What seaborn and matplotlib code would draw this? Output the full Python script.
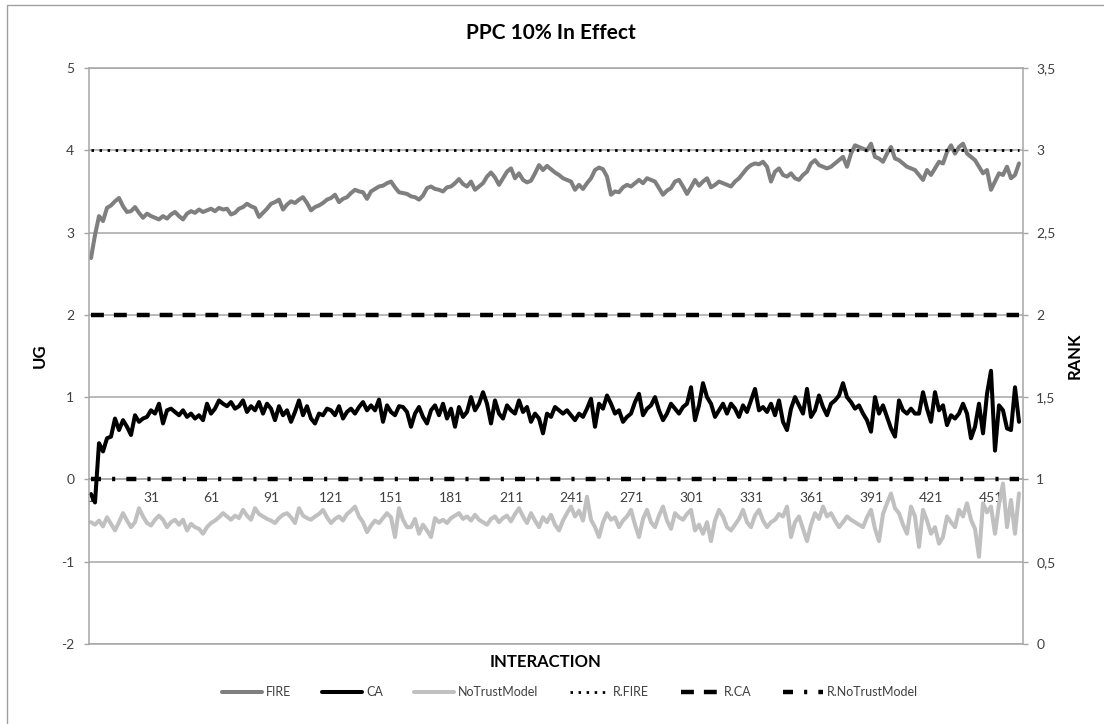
import numpy as np
import pandas as pd
import matplotlib
matplotlib.use("Agg")
import matplotlib.pyplot as plt
from matplotlib.lines import Line2D
from matplotlib.patches import Rectangle
from matplotlib.ticker import FuncFormatter
import seaborn as sns

# DATA (every 2nd interaction)
interaction = np.arange(1, 466, 2)

fire_ug = [
    2.69, 2.97, 3.20, 3.14, 3.30, 3.33, 3.38, 3.42, 3.32, 3.25,
    3.26, 3.31, 3.24, 3.18, 3.23, 3.20, 3.18, 3.16, 3.20, 3.17,
    3.22, 3.25, 3.20, 3.16, 3.23, 3.26, 3.24, 3.28, 3.25, 3.27,
    3.29, 3.26, 3.30, 3.28, 3.29, 3.22, 3.24, 3.29, 3.31, 3.35,
    3.32, 3.30, 3.19, 3.24, 3.29, 3.35, 3.37, 3.40, 3.28, 3.34,
    3.38, 3.36, 3.40, 3.43, 3.36, 3.27, 3.31, 3.33, 3.36, 3.40,
    3.42, 3.46, 3.37, 3.41, 3.43, 3.48, 3.52, 3.50, 3.49, 3.41,
    3.50, 3.53, 3.56, 3.57, 3.60, 3.62, 3.55, 3.49, 3.48, 3.47,
    3.44, 3.43, 3.40, 3.45, 3.54, 3.56, 3.53, 3.52, 3.50, 3.55,
    3.56, 3.60, 3.65, 3.59, 3.56, 3.62, 3.52, 3.56, 3.60, 3.68,
    3.73, 3.67, 3.58, 3.66, 3.74, 3.78, 3.66, 3.72, 3.64, 3.61,
    3.63, 3.72, 3.82, 3.76, 3.81, 3.77, 3.73, 3.70, 3.66, 3.64,
    3.62, 3.52, 3.58, 3.53, 3.60, 3.66, 3.76, 3.79, 3.77, 3.68,
    3.46, 3.50, 3.49, 3.55, 3.58, 3.56, 3.60, 3.64, 3.60, 3.66,
    3.64, 3.62, 3.54, 3.46, 3.51, 3.54, 3.62, 3.64, 3.56, 3.47,
    3.55, 3.64, 3.57, 3.62, 3.66, 3.55, 3.58, 3.62, 3.60, 3.58,
    3.56, 3.62, 3.66, 3.72, 3.78, 3.82, 3.84, 3.83, 3.86, 3.80,
    3.62, 3.74, 3.78, 3.70, 3.68, 3.72, 3.66, 3.64, 3.70, 3.74,
    3.84, 3.88, 3.82, 3.80, 3.78, 3.80, 3.84, 3.88, 3.92, 3.80,
    3.96, 4.06, 4.04, 4.02, 4.00, 4.08, 3.92, 3.90, 3.86, 3.96,
    4.04, 3.90, 3.88, 3.84, 3.80, 3.78, 3.76, 3.70, 3.64, 3.76,
    3.70, 3.78, 3.86, 3.84, 3.98, 4.06, 3.96, 4.04, 4.08, 3.96,
    3.92, 3.88, 3.80, 3.72, 3.76, 3.52, 3.62, 3.72, 3.70, 3.80,
    3.66, 3.70, 3.84,
]

ca_ug = [
    -0.18, -0.28, 0.44, 0.34, 0.50, 0.52, 0.74, 0.60, 0.72, 0.64,
    0.54, 0.78, 0.70, 0.74, 0.76, 0.84, 0.80, 0.92, 0.68, 0.84,
    0.86, 0.82, 0.78, 0.84, 0.76, 0.80, 0.74, 0.78, 0.72, 0.92,
    0.80, 0.86, 0.96, 0.92, 0.89, 0.94, 0.86, 0.89, 0.96, 0.82,
    0.89, 0.84, 0.94, 0.80, 0.92, 0.86, 0.72, 0.89, 0.78, 0.84,
    0.70, 0.82, 0.96, 0.78, 0.89, 0.74, 0.68, 0.80, 0.78, 0.86,
    0.84, 0.78, 0.89, 0.74, 0.82, 0.86, 0.80, 0.88, 0.94, 0.84,
    0.90, 0.84, 0.97, 0.70, 0.90, 0.82, 0.78, 0.89, 0.88, 0.82,
    0.64, 0.80, 0.88, 0.76, 0.68, 0.84, 0.90, 0.78, 0.92, 0.74,
    0.86, 0.64, 0.88, 0.76, 0.82, 1.00, 0.84, 0.92, 1.06, 0.92,
    0.68, 0.96, 0.80, 0.74, 0.90, 0.84, 0.80, 0.96, 0.82, 0.88,
    0.70, 0.80, 0.74, 0.56, 0.80, 0.76, 0.88, 0.84, 0.80, 0.84,
    0.78, 0.72, 0.80, 0.76, 0.86, 0.98, 0.64, 0.92, 0.86, 1.02,
    0.92, 0.80, 0.84, 0.70, 0.76, 0.80, 0.94, 1.04, 0.78, 0.86,
    0.90, 1.00, 0.84, 0.72, 0.80, 0.92, 0.86, 0.80, 0.88, 0.92,
    1.12, 0.72, 0.90, 1.17, 1.00, 0.92, 0.76, 0.84, 0.92, 0.80,
    0.92, 0.86, 0.76, 0.90, 0.82, 0.96, 1.10, 0.84, 0.88, 0.82,
    0.92, 0.78, 0.96, 0.70, 0.60, 0.86, 1.00, 0.90, 0.80, 1.10,
    0.76, 0.84, 1.02, 0.88, 0.78, 0.92, 0.96, 1.02, 1.17, 1.00,
    0.94, 0.86, 0.90, 0.80, 0.72, 0.58, 1.00, 0.80, 0.90, 0.76,
    0.62, 0.52, 0.96, 0.84, 0.80, 0.86, 0.80, 0.80, 1.06, 0.86,
    0.70, 1.06, 0.84, 0.90, 0.66, 0.78, 0.74, 0.80, 0.92, 0.80,
    0.50, 0.64, 0.92, 0.56, 1.04, 1.32, 0.35, 0.90, 0.84, 0.62,
    0.60, 1.12, 0.70,
]

notrust_ug = [
    -0.52, -0.55, -0.50, -0.57, -0.46, -0.54, -0.62, -0.52, -0.41, -0.50,
    -0.58, -0.52, -0.35, -0.45, -0.53, -0.56, -0.49, -0.44, -0.49, -0.58,
    -0.52, -0.49, -0.55, -0.49, -0.62, -0.54, -0.58, -0.60, -0.66, -0.58,
    -0.53, -0.50, -0.46, -0.41, -0.45, -0.49, -0.44, -0.47, -0.37, -0.44,
    -0.49, -0.35, -0.42, -0.45, -0.48, -0.50, -0.53, -0.47, -0.43, -0.41,
    -0.46, -0.53, -0.35, -0.44, -0.47, -0.49, -0.45, -0.42, -0.37, -0.46,
    -0.53, -0.48, -0.45, -0.50, -0.42, -0.38, -0.33, -0.45, -0.52, -0.64,
    -0.56, -0.50, -0.53, -0.47, -0.41, -0.46, -0.70, -0.35, -0.49, -0.58,
    -0.58, -0.48, -0.66, -0.55, -0.62, -0.70, -0.47, -0.52, -0.49, -0.53,
    -0.47, -0.44, -0.41, -0.48, -0.45, -0.50, -0.43, -0.49, -0.52, -0.55,
    -0.48, -0.45, -0.52, -0.47, -0.44, -0.51, -0.42, -0.35, -0.45, -0.53,
    -0.41, -0.50, -0.58, -0.46, -0.52, -0.43, -0.55, -0.62, -0.50, -0.41,
    -0.33, -0.45, -0.38, -0.50, -0.21, -0.49, -0.58, -0.70, -0.52, -0.41,
    -0.49, -0.46, -0.58, -0.50, -0.45, -0.37, -0.55, -0.70, -0.48, -0.37,
    -0.52, -0.58, -0.44, -0.33, -0.50, -0.60, -0.41, -0.46, -0.49, -0.42,
    -0.37, -0.62, -0.55, -0.66, -0.52, -0.75, -0.50, -0.37, -0.45, -0.58,
    -0.62, -0.55, -0.48, -0.37, -0.52, -0.58, -0.44, -0.37, -0.50, -0.58,
    -0.52, -0.49, -0.42, -0.45, -0.33, -0.70, -0.52, -0.45, -0.60, -0.75,
    -0.55, -0.41, -0.48, -0.33, -0.45, -0.41, -0.50, -0.58, -0.52, -0.45,
    -0.49, -0.52, -0.55, -0.58, -0.46, -0.37, -0.60, -0.75, -0.42, -0.29,
    -0.17, -0.35, -0.41, -0.55, -0.66, -0.33, -0.45, -0.82, -0.37, -0.50,
    -0.66, -0.58, -0.78, -0.70, -0.45, -0.52, -0.58, -0.37, -0.45, -0.29,
    -0.49, -0.60, -0.94, -0.29, -0.40, -0.33, -0.66, -0.30, -0.05, -0.58,
    -0.25, -0.66, -0.17,
]

# rank reference levels (secondary axis)
rank_fire = 3
rank_ca = 2
rank_notrust = 1

ug_ticks = [-2, -1, 0, 1, 2, 3, 4, 5]
rank_ticks = [0, 0.5, 1, 1.5, 2, 2.5, 3, 3.5]
x_labels = [1, 31, 61, 91, 121, 151, 181, 211, 241, 271, 301, 331, 361, 391, 421, 451]

# STYLE
sns.set_style("white")
plt.rcParams['font.family'] = ['Lato', 'DejaVu Sans']
plt.rcParams['axes.unicode_minus'] = False
grey = '#a6a6a6'
txt = '#404040'

fig = plt.figure(figsize=(11.04, 7.24), dpi=100)
ax = fig.add_axes([89 / 1104, 1 - 644 / 724, 934 / 1104, 576 / 724])
ax2 = ax.twinx()

# UG series
ug_df = pd.DataFrame({
    'interaction': np.tile(interaction, 3),
    'UG': fire_ug + ca_ug + notrust_ug,
    'series': ['FIRE'] * len(fire_ug) + ['CA'] * len(ca_ug) + ['NoTrustModel'] * len(notrust_ug),
})
palette = {'FIRE': '#7f7f7f', 'CA': '#000000', 'NoTrustModel': '#c0c0c0'}
sns.lineplot(data=ug_df, x='interaction', y='UG', hue='series', palette=palette,
             linewidth=2.9, ax=ax, legend=False, errorbar=None)

# Rank series
rank_styles = [
    ('R.FIRE', rank_fire, 2.0, (0, (0.9, 2.0))),
    ('R.CA', rank_ca, 3.2, (0, (2.9, 2.25))),
    ('R.NoTrustModel', rank_notrust, 3.2, (0, (2.25, 2.5, 0.7, 2.5))),
]
for name, level, lw, ls in rank_styles:
    sns.lineplot(x=interaction, y=np.full(len(interaction), level), color='black',
                 linewidth=lw, linestyle=ls, ax=ax2, legend=False)

# primary axis
ax.set_xlim(0, 467)
ax.set_ylim(-2, 5)
ax.set_yticks(ug_ticks)
ax.grid(axis='y', color=grey, linewidth=1.1)
ax.grid(axis='x', visible=False)
ax.set_axisbelow(True)
ax.set_xlabel('')
ax.set_ylabel('')
ax.spines['bottom'].set_position(('data', 0))
for s in ['top', 'right']:
    ax.spines[s].set_visible(False)
for s in ['left', 'bottom']:
    ax.spines[s].set_color(grey)
    ax.spines[s].set_linewidth(1.1)
ax.set_xticks(x_labels)
ax.set_xticklabels([str(v) for v in x_labels])
ax.set_xticks(np.arange(1, 467), minor=True)
ax.tick_params(axis='x', which='both', direction='out', length=4, width=0.8,
               color='#707070', pad=5, labelsize=10, labelcolor=txt)
ax.tick_params(axis='y', direction='out', length=3.6, width=1, color=grey,
               pad=7, labelsize=10, labelcolor=txt)

# secondary axis
ax2.set_ylim(0, 3.5)
ax2.set_yticks(rank_ticks)
ax2.yaxis.set_major_formatter(FuncFormatter(lambda v, p: f'{v:g}'.replace('.', ',')))
ax2.set_ylabel('')
ax2.grid(False)
ax2.spines['left'].set_visible(False)
for s in ['right', 'top', 'bottom']:
    ax2.spines[s].set_color(grey)
    ax2.spines[s].set_linewidth(1.1)
ax2.tick_params(axis='y', direction='out', length=3.6, width=1, color=grey,
                pad=6, labelsize=10, labelcolor=txt)

# titles
fig.text(551 / 1104, 1 - 33 / 724, 'PPC 10% In Effect', ha='center', va='center',
         fontsize=15, fontweight='bold', color='black')
fig.text(40 / 1104, 1 - 356 / 724, 'UG', ha='center', va='center', rotation=90,
         fontsize=12, fontweight='bold', color='black')
fig.text(1075 / 1104, 1 - 356 / 724, 'RANK', ha='center', va='center', rotation=90,
         fontsize=12, fontweight='bold', color='black')
fig.text(546 / 1104, 1 - 662 / 724, 'INTERACTION', ha='center', va='center',
         fontsize=12, fontweight='bold', color='black')

# legend
handles = [
    Line2D([], [], color=palette['FIRE'], lw=2.9),
    Line2D([], [], color=palette['CA'], lw=2.9),
    Line2D([], [], color=palette['NoTrustModel'], lw=2.9),
]
for name, level, lw, ls in rank_styles:
    handles.append(Line2D([], [], color='black', lw=lw, linestyle=ls))
labels = ['FIRE', 'CA', 'NoTrustModel', 'R.FIRE', 'R.CA', 'R.NoTrustModel']
fig.legend(handles, labels, loc='center', bbox_to_anchor=(570 / 1104, 1 - 692 / 724),
           ncol=6, frameon=False, fontsize=9, handlelength=3.2, handletextpad=0.3,
           columnspacing=2.5, labelcolor=txt)

# chart border
fig.patches.append(Rectangle((7 / 1104, -0.02), 1.05, 1 - 5 / 724 + 0.02,
                             transform=fig.transFigure, fill=False,
                             edgecolor='#a0a0a0', linewidth=1))

fig.savefig('out.png', dpi=100)
